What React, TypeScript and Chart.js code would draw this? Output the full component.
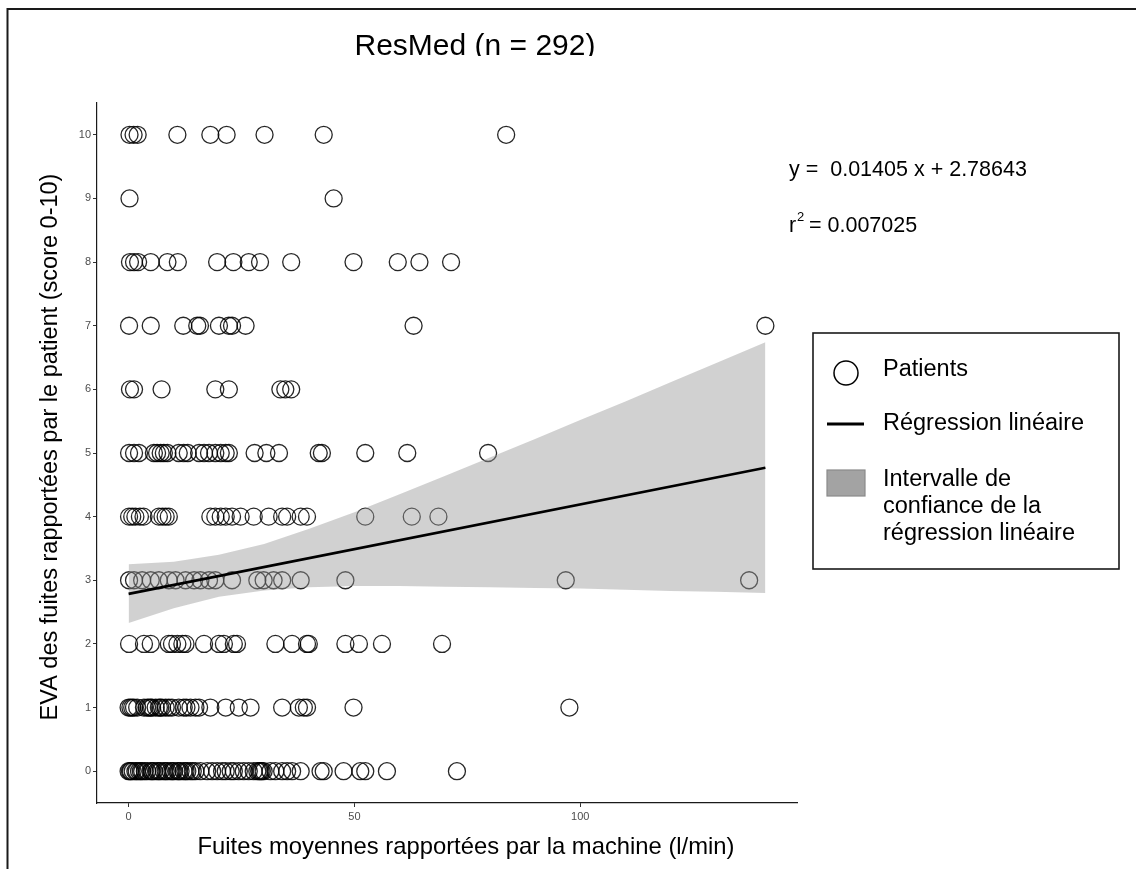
import { useEffect, useRef } from 'react';
import { Chart, registerables } from 'chart.js';

Chart.register(...registerables);

// ---------- data ----------
const SCORES = [0, 1, 2, 3, 4, 5, 6, 7, 8, 9, 10];

const LEAKS_SCORE_0 = [
  0, 0.3, 0.5, 0.9, 1.5, 1.8, 2.3, 2.7, 3.0, 3.6, 4.1, 4.9, 5.2, 5.6, 6.3, 6.7, 7.1, 7.8, 8.2, 8.6, 9.3,
  9.7, 10.0, 10.8, 11.1, 11.5, 12.2, 12.6, 13.0, 13.7, 14.2, 14.8, 15.9, 17.4, 18.5, 19.6, 20.7, 21.5,
  22.6, 23.3, 24.4, 25.5, 26.6, 27.7, 28.5, 28.9, 29.2, 29.5, 29.9, 31.4, 32.5, 34.0, 35.1, 36.2, 38.1,
  42.5, 43.2, 47.6, 51.3, 52.4, 57.2, 72.7,
];
const LEAKS_SCORE_1 = [
  0, 0.4, 0.8, 1.2, 1.9, 3.4, 4.1, 4.5, 4.9, 5.2, 6.0, 6.7, 7.0, 7.4, 8.2, 8.9, 9.6, 11.1, 12.2, 12.8,
  13.7, 14.8, 15.6, 18.1, 21.5, 24.4, 27.0, 34.0, 37.7, 38.8, 39.5, 49.8, 97.6,
];
const LEAKS_SCORE_2 = [
  0.1, 3.4, 4.9, 8.9, 9.6, 10.8, 11.9, 12.6, 16.7, 20.0, 21.1, 23.3, 24.0, 32.5, 36.2, 39.5, 39.9, 48.0,
  51.0, 56.1, 69.4,
];
const LEAKS_SCORE_3 = [
  0.1, 1.2, 3.0, 4.9, 6.7, 8.9, 10.4, 12.6, 14.5, 15.9, 17.8, 19.2, 22.9, 28.5, 29.9, 32.1, 34.0, 38.1,
  48.0, 96.8, 137.4,
];
const LEAKS_SCORE_4 = [
  0.1, 0.8, 1.5, 2.5, 3.3, 6.7, 7.5, 8.2, 8.9, 18.1, 19.2, 20.4, 21.5, 22.9, 24.8, 27.7, 31.0, 34.0, 35.1,
  38.1, 39.5, 52.4, 62.7, 68.6,
];
const LEAKS_SCORE_5 = [
  0.1, 1.2, 2.3, 5.6, 6.3, 7.1, 7.8, 8.6, 11.1, 12.2, 13.1, 15.6, 16.7, 17.8, 19.2, 20.4, 21.5, 22.2,
  27.9, 30.5, 33.3, 42.1, 42.8, 52.4, 61.7, 79.6,
];
const LEAKS_SCORE_6 = [0.3, 1.2, 7.3, 19.2, 22.2, 33.6, 34.7, 36.0];
const LEAKS_SCORE_7 = [0.1, 4.9, 12.1, 15.2, 15.8, 20.0, 22.2, 22.9, 25.9, 63.1, 141.0];
const LEAKS_SCORE_8 = [
  0.3, 1.2, 2.1, 4.9, 8.6, 10.9, 19.6, 23.2, 26.6, 29.1, 36.0, 49.8, 59.6, 64.4, 71.4,
];
const LEAKS_SCORE_9 = [0.2, 45.4];
const LEAKS_SCORE_10 = [0.2, 1.1, 2.0, 10.8, 18.1, 21.7, 30.1, 43.2, 83.6];

const LEAKS_BY_SCORE = [
  LEAKS_SCORE_0, LEAKS_SCORE_1, LEAKS_SCORE_2, LEAKS_SCORE_3, LEAKS_SCORE_4, LEAKS_SCORE_5,
  LEAKS_SCORE_6, LEAKS_SCORE_7, LEAKS_SCORE_8, LEAKS_SCORE_9, LEAKS_SCORE_10,
];

// regression line end points
const REG_X = [0, 141];
const REG_Y = [2.786, 4.767];

// confidence band
const BAND_X = [0, 10, 20, 30, 40, 50, 60, 70, 80, 90, 100, 110, 120, 130, 141];
const BAND_UPPER = [3.25, 3.29, 3.40, 3.57, 3.81, 4.07, 4.35, 4.64, 4.93, 5.22, 5.52, 5.81, 6.11, 6.41, 6.74];
const BAND_LOWER = [2.33, 2.56, 2.74, 2.84, 2.89, 2.91, 2.91, 2.90, 2.89, 2.88, 2.87, 2.85, 2.83, 2.82, 2.80];

const X_TICKS = [0, 50, 100];
const Y_TICKS = [0, 1, 2, 3, 4, 5, 6, 7, 8, 9, 10];

const TITLE = 'ResMed (n = 292)';
const X_TITLE = 'Fuites moyennes rapportées par la machine (l/min)';
const Y_TITLE = 'EVA des fuites rapportées par le patient (score 0-10)';
const EQUATION = 'y =  0.01405 x + 2.78643';
const R2_LEFT = 'r';
const R2_SUP = '2';
const R2_RIGHT = ' = 0.007025';
const LEGEND_POINTS = 'Patients';
const LEGEND_LINE = 'Régression linéaire';
const LEGEND_BAND = ['Intervalle de', 'confiance de la', 'régression linéaire'];

// ---------- drawing helpers ----------
const FONT = '"Liberation Sans", Arial, Helvetica, sans-serif';

function drawText(
  ctx: CanvasRenderingContext2D,
  text: string,
  x: number,
  y: number,
  size: number,
  align: CanvasTextAlign = 'left',
  rotate = false,
) {
  ctx.save();
  ctx.font = `${size}px ${FONT}`;
  ctx.fillStyle = '#000';
  ctx.textAlign = align;
  ctx.textBaseline = 'alphabetic';
  ctx.translate(x, y);
  if (rotate) ctx.rotate(-Math.PI / 2);
  ctx.fillText(text, 0, 0);
  ctx.restore();
}

const overlayPlugin = {
  id: 'overlay',
  afterDraw(chart: any) {
    const ctx: CanvasRenderingContext2D = chart.ctx;
    const W = chart.width;
    const H = chart.height;

    // outer frame (top and left)
    ctx.save();
    ctx.strokeStyle = '#1a1a1a';
    ctx.lineWidth = 2;
    ctx.beginPath();
    ctx.moveTo(7.5, H);
    ctx.lineTo(7.5, 9);
    ctx.lineTo(W, 9);
    ctx.stroke();
    ctx.restore();

    // title (its lower edge is cut in the reference)
    ctx.save();
    ctx.beginPath();
    ctx.rect(0, 0, W, 56);
    ctx.clip();
    drawText(ctx, TITLE, 475, 55, 30, 'center');
    ctx.restore();

    // axis titles
    drawText(ctx, X_TITLE, 466, 854, 23.8, 'center');
    drawText(ctx, Y_TITLE, 57, 447, 23.5, 'center', true);

    // equation
    drawText(ctx, EQUATION, 789, 176, 21.5, 'left');
    drawText(ctx, R2_LEFT, 789, 232, 21.5, 'left');
    drawText(ctx, R2_SUP, 797, 221, 13, 'left');
    drawText(ctx, R2_RIGHT, 803, 232, 21.5, 'left');

    // legend box
    ctx.save();
    ctx.strokeStyle = '#1a1a1a';
    ctx.lineWidth = 1.6;
    ctx.strokeRect(813, 333, 306, 236);

    ctx.lineWidth = 1.5;
    ctx.strokeStyle = '#000';
    ctx.beginPath();
    ctx.arc(846, 373, 12, 0, Math.PI * 2);
    ctx.stroke();

    ctx.lineWidth = 3;
    ctx.beginPath();
    ctx.moveTo(827, 424);
    ctx.lineTo(864, 424);
    ctx.stroke();

    ctx.fillStyle = '#a3a3a3';
    ctx.fillRect(827, 470, 38, 26);
    ctx.lineWidth = 1.2;
    ctx.strokeStyle = '#8a8a8a';
    ctx.strokeRect(827, 470, 38, 26);
    ctx.restore();

    drawText(ctx, LEGEND_POINTS, 883, 376, 23.5);
    drawText(ctx, LEGEND_LINE, 883, 430, 23.5);
    LEGEND_BAND.forEach((line, i) => drawText(ctx, line, 883, 486 + i * 27, 23.5));
  },
};

export default function App() {
  const ref = useRef<HTMLCanvasElement | null>(null);

  useEffect(() => {
    if (!ref.current) return;
    document.body.style.margin = '0';

    const points = LEAKS_BY_SCORE.flatMap((xs, i) => xs.map((x) => ({ x, y: SCORES[i] })));
    const regression = REG_X.map((x, i) => ({ x, y: REG_Y[i] }));
    const upper = BAND_X.map((x, i) => ({ x, y: BAND_UPPER[i] }));
    const lower = BAND_X.map((x, i) => ({ x, y: BAND_LOWER[i] }));

    const tickFont = { family: FONT, size: 11 };

    const chart = new Chart(ref.current, {
      type: 'scatter',
      data: {
        datasets: [
          {
            type: 'line',
            label: 'Régression linéaire',
            data: regression,
            borderColor: '#000',
            borderWidth: 2.6,
            pointRadius: 0,
            fill: false,
            order: 1,
          },
          {
            type: 'line',
            label: 'IC haut',
            data: upper,
            borderWidth: 0,
            borderColor: 'rgba(0,0,0,0)',
            backgroundColor: 'rgba(153,153,153,0.45)',
            pointRadius: 0,
            fill: '+1',
            order: 2,
          },
          {
            type: 'line',
            label: 'IC bas',
            data: lower,
            borderWidth: 0,
            borderColor: 'rgba(0,0,0,0)',
            pointRadius: 0,
            fill: false,
            order: 2,
          },
          {
            type: 'scatter',
            label: 'Patients',
            data: points,
            pointRadius: 8.5,
            pointStyle: 'circle',
            borderColor: 'rgba(0,0,0,0.85)',
            borderWidth: 1.3,
            backgroundColor: 'rgba(0,0,0,0)',
            order: 3,
          },
        ],
      },
      options: {
        responsive: false,
        animation: false,
        events: [],
        layout: { padding: { left: 0, top: 103, right: 339, bottom: 0 } },
        plugins: {
          legend: { display: false },
          title: { display: false },
          tooltip: { enabled: false },
        },
        scales: {
          x: {
            type: 'linear',
            min: -7,
            max: 148,
            afterBuildTicks: (scale: any) => {
              scale.ticks = X_TICKS.map((value) => ({ value }));
            },
            afterFit: (scale: any) => {
              scale.height = 66;
            },
            grid: { drawOnChartArea: false, drawTicks: true, tickLength: 4, color: '#333', lineWidth: 1 },
            border: { display: true, color: '#1a1a1a', width: 1.2 },
            ticks: { font: tickFont, color: '#4d4d4d', padding: 3, maxRotation: 0 },
          },
          y: {
            type: 'linear',
            min: -0.5,
            max: 10.5,
            afterBuildTicks: (scale: any) => {
              scale.ticks = Y_TICKS.map((value) => ({ value }));
            },
            afterFit: (scale: any) => {
              scale.width = 97;
            },
            grid: { drawOnChartArea: false, drawTicks: true, tickLength: 4, color: '#333', lineWidth: 1 },
            border: { display: true, color: '#1a1a1a', width: 1.2 },
            ticks: { font: tickFont, color: '#4d4d4d', padding: 2 },
          },
        },
      },
      plugins: [overlayPlugin],
    } as any);

    return () => chart.destroy();
  }, []);

  return (
    <canvas
      ref={ref}
      width={1136}
      height={869}
      style={{ position: 'absolute', left: 0, top: 0, width: '1136px', height: '869px', display: 'block', background: '#fff' }}
    />
  );
}
